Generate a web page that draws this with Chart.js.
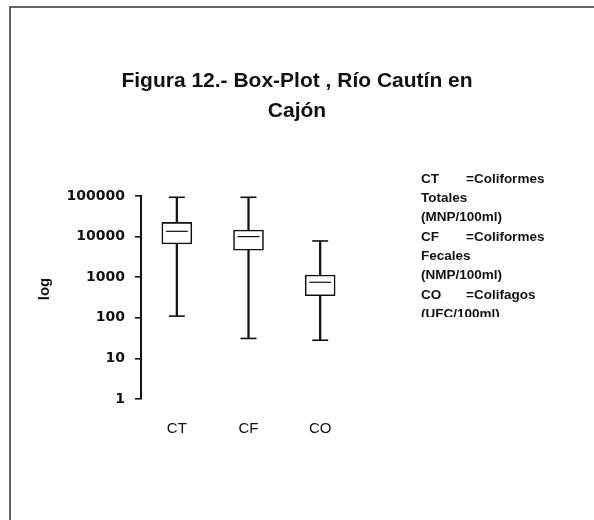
<!DOCTYPE html>
<html>
<head>
<meta charset="utf-8">
<script src="https://cdn.jsdelivr.net/npm/chart.js@4"></script>
<style>
  html, body { margin: 0; padding: 0; background: #fff; }
  #caja { width: 594px; height: 520px; }
</style>
</head>
<body>
<div id="caja"><canvas id="boxplot"></canvas></div>
<script>
// DATOS (escala log)
const categorias = ["CT", "CF", "CO"];
const minimos = [110, 31, 28];
const cuartil1 = [6600, 4600, 350];
const medianas = [13500, 10000, 750];
const cuartil3 = [22400, 14500, 1130];
const maximos = [93000, 93000, 7800];
const ticksY = [1, 10, 100, 1000, 10000, 100000];

// TEXTOS
const tituloLineas = ["Figura 12.- Box-Plot , Río Cautín en", "Cajón"];
const ejeY = "log";
const leyendaCodigos = ["CT", "", "", "CF", "", "", "CO", ""];
const leyendaTextos = ["=Coliformes", "Totales", "(MNP/100ml)", "=Coliformes", "Fecales", "(NMP/100ml)", "=Colifagos", "(UFC/100ml)"];

const negro = "#111";

// bigotes, tapas y medianas
const bigotes = {
  id: "bigotes",
  afterDatasetsDraw(chart) {
    const ctx = chart.ctx;
    const x = chart.scales.x;
    const y = chart.scales.y;
    ctx.save();
    ctx.strokeStyle = negro;
    for (let i = 0; i < categorias.length; i++) {
      const cx = x.getPixelForValue(i);
      // tapas
      ctx.lineWidth = 1.6;
      for (const v of [minimos[i], maximos[i]]) {
        const py = y.getPixelForValue(v);
        ctx.beginPath();
        ctx.moveTo(cx - 8, py);
        ctx.lineTo(cx + 8, py);
        ctx.stroke();
      }
      // mediana
      ctx.lineWidth = 1.2;
      const pm = y.getPixelForValue(medianas[i]);
      ctx.beginPath();
      ctx.moveTo(cx - 11, pm);
      ctx.lineTo(cx + 11, pm);
      ctx.stroke();
    }
    ctx.restore();
  },
};

// titulo, leyenda, etiqueta del eje y marco
const textos = {
  id: "textos",
  afterDraw(chart) {
    const ctx = chart.ctx;
    ctx.save();
    // marco
    ctx.strokeStyle = "#333";
    ctx.lineWidth = 1.5;
    ctx.beginPath();
    ctx.moveTo(10, 520);
    ctx.lineTo(10, 7);
    ctx.lineTo(594, 7);
    ctx.stroke();

    // titulo
    ctx.fillStyle = negro;
    ctx.textAlign = "center";
    ctx.textBaseline = "middle";
    ctx.font = "bold 21px 'Liberation Sans', Arial, sans-serif";
    tituloLineas.forEach((t, i) => ctx.fillText(t, 297, 81 + i * 30));

    // etiqueta eje
    ctx.save();
    ctx.translate(45, 289);
    ctx.rotate(-Math.PI / 2);
    ctx.font = "bold 15px 'Liberation Sans', Arial, sans-serif";
    ctx.fillText(ejeY, 0, 0);
    ctx.restore();

    // leyenda (recortada como en el original)
    ctx.beginPath();
    ctx.rect(400, 165, 194, 152);
    ctx.clip();
    ctx.textAlign = "left";
    ctx.font = "bold 13.5px 'Liberation Sans Narrow', 'Liberation Sans', Arial, sans-serif";
    for (let i = 0; i < leyendaTextos.length; i++) {
      const py = 179 + i * 19.3;
      if (leyendaCodigos[i]) {
        ctx.fillText(leyendaCodigos[i], 421, py);
        ctx.fillText(leyendaTextos[i], 466, py);
      } else {
        ctx.fillText(leyendaTextos[i], 421, py);
      }
    }
    ctx.restore();
  },
};

const chartBox = new Chart(document.getElementById("boxplot"), {
  type: "bar",
  data: {
    labels: categorias,
    datasets: [
      {
        label: "Caja",
        data: categorias.map((c, i) => [cuartil1[i], cuartil3[i]]),
        backgroundColor: "#fff",
        borderColor: negro,
        borderWidth: 1.6,
        borderSkipped: false,
        barThickness: 30,
        grouped: false,
        order: 0,
      },
      {
        label: "Bigote",
        data: categorias.map((c, i) => [minimos[i], maximos[i]]),
        backgroundColor: negro,
        borderWidth: 0,
        barThickness: 1.6,
        grouped: false,
        order: 1,
      },
    ],
  },
  options: {
    responsive: true,
    maintainAspectRatio: false,
    animation: false,
    layout: {
      padding: { top: 196, right: 238, bottom: 0, left: 0 },
    },
    scales: {
      x: {
        type: "category",
        offset: true,
        grid: { display: false, drawTicks: false },
        border: { display: false },
        ticks: {
          color: negro,
          padding: 21,
          font: { family: "'Liberation Sans', Arial, sans-serif", size: 15 },
        },
        afterFit: (scale) => {
          scale.height = 121;
        },
      },
      y: {
        type: "logarithmic",
        min: 1,
        max: 100000,
        grid: {
          display: true,
          drawOnChartArea: false,
          drawTicks: true,
          tickLength: 6,
          color: negro,
          lineWidth: 1.6,
        },
        border: { display: true, color: negro, width: 2 },
        afterBuildTicks: (scale) => {
          scale.ticks = ticksY.map((v) => ({ value: v }));
        },
        ticks: {
          color: negro,
          padding: 10,
          font: { family: "'DejaVu Sans', sans-serif", size: 14, weight: "bold" },
          callback: (v) => String(v),
        },
        afterFit: (scale) => {
          scale.width = 141;
        },
      },
    },
    plugins: {
      legend: { display: false },
      title: { display: false },
      tooltip: { enabled: false },
    },
  },
  plugins: [bigotes, textos],
});
</script>
</body>
</html>
